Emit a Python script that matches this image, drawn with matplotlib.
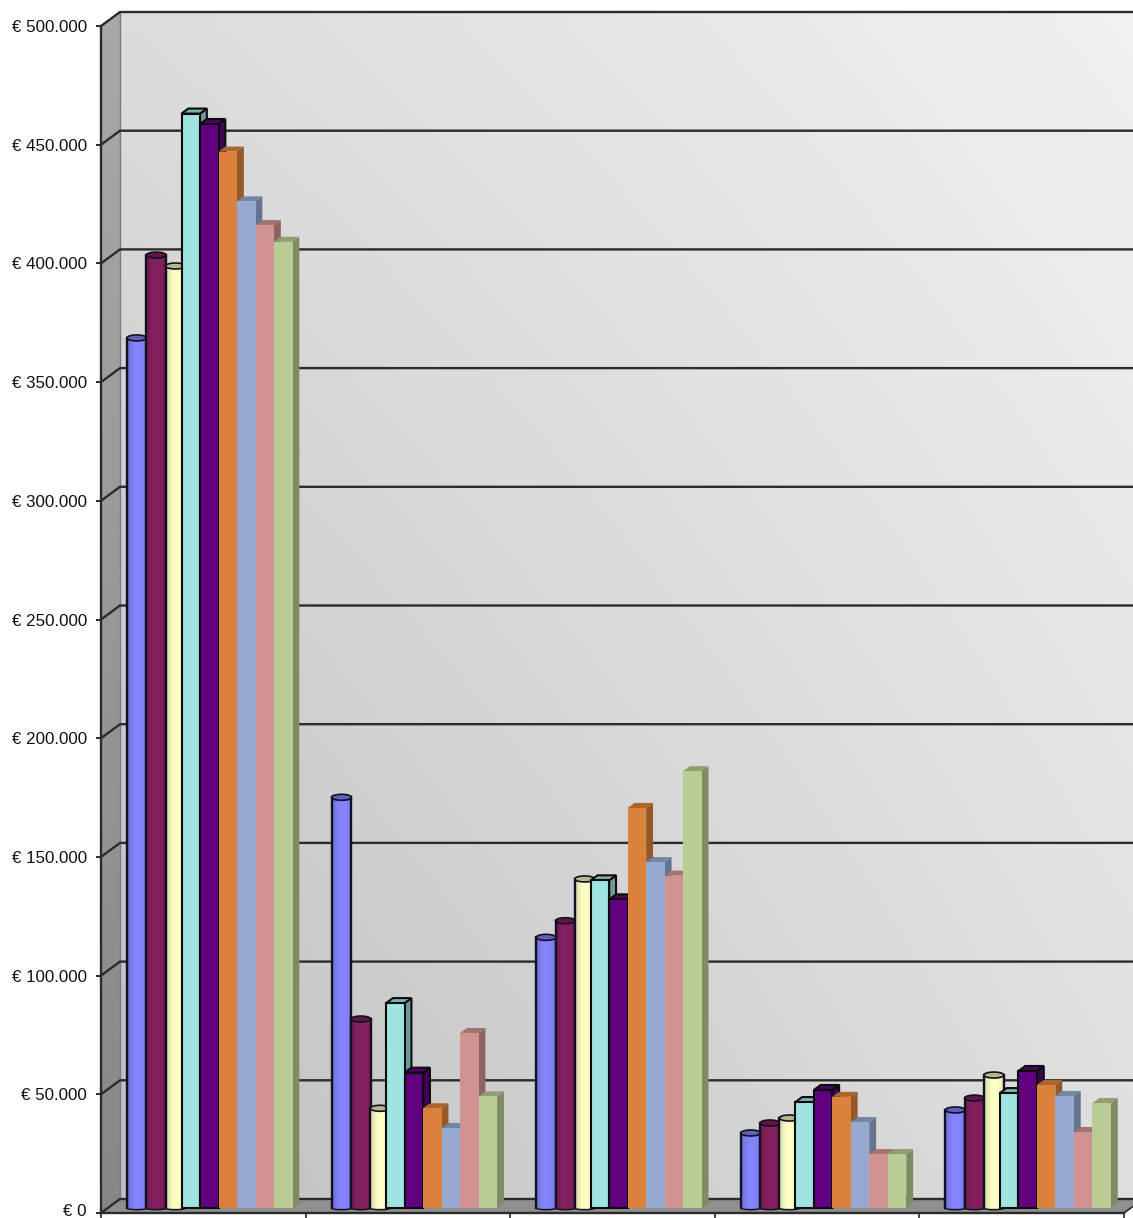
import numpy as np
import matplotlib
matplotlib.use("Agg")
import matplotlib.pyplot as plt
from matplotlib.colors import to_rgb
from matplotlib.patches import Ellipse, Polygon, Rectangle
from matplotlib.ticker import FuncFormatter
from matplotlib.transforms import ScaledTranslation

plt.rcParams["font.family"] = ["Liberation Sans", "DejaVu Sans"]

# Yearly amounts per series, one entry for each of the five unnamed groups
series_a = [366500, 173000, 114000, 31600, 41300]
series_b = [401400, 79600, 121000, 35800, 46300]
series_c = [396800, 42000, 138600, 37900, 56000]
series_d = [461000, 86300, 138000, 44600, 48400]
series_e = [456600, 57000, 130000, 49700, 57700]
series_f = [445000, 42000, 168500, 46800, 51800]
series_g = [424000, 33700, 145700, 36200, 47200]
series_h = [414000, 73700, 140000, 22700, 32000]
series_i = [407000, 47000, 184000, 22700, 44200]
all_series = [series_a, series_b, series_c, series_d, series_e,
              series_f, series_g, series_h, series_i]
colors = ["#8585FF", "#862060", "#FFFFC6", "#A0E4E2", "#600080",
          "#DB813B", "#95A9D1", "#D19392", "#B9CC93"]
shapes = ["cyl", "cyl", "cyl", "box", "box", "flat", "flat", "flat", "flat"]
y_ticks = list(range(0, 500001, 50000))

W, H = 1133, 1218
fig = plt.figure(figsize=(W / 100, H / 100), dpi=100, facecolor="white")
ax = fig.add_axes([101 / W, (H - 1213) / H, 1023 / W, 1187 / H])
ax.set_xlim(0, 5)
ax.set_ylim(0, 500000)
ax.patch.set_visible(False)

# Conversion from screen pixels to data units, used for the 3D extrusion
PX = 5 / 1023
PY = 500000 / 1187
WALL_X, WALL_Y = 19 * PX, 14 * PY
INK = "#2b2b2b"


def lift(x, v, depth):
    """Project a point on the chart's front plane back along the depth axis."""
    return x + depth * WALL_X, v + depth * WALL_Y


# Back wall with a diagonal grey gradient
u, w = np.meshgrid(np.linspace(0, 1, 64), np.linspace(0, 1, 64))
shade = 0.75 + 0.12 * u + 0.11 * w - 0.04 * u * w
ax.imshow(shade, origin="lower", cmap="gray", vmin=0, vmax=1, aspect="auto",
          extent=[WALL_X, 5 + WALL_X, WALL_Y, 500000 + WALL_Y],
          interpolation="bilinear", zorder=0, clip_on=False)

# Left wall, with a vertical gradient clipped to its parallelogram
left_poly = Polygon([(0, 0), (WALL_X, WALL_Y), (WALL_X, 500000 + WALL_Y), (0, 500000)],
                    closed=True, transform=ax.transData, facecolor="none",
                    edgecolor="none", clip_on=False)
ax.add_patch(left_poly)
lw_grad = np.linspace(0.53, 0.66, 64)[:, None] + 0 * np.linspace(0, 1, 8)[None, :]
im = ax.imshow(lw_grad, origin="lower", cmap="gray", vmin=0, vmax=1, aspect="auto",
               extent=[0, WALL_X, 0, 500000 + WALL_Y], zorder=0.5)
im.set_clip_box(fig.bbox)
im.set_clip_path(left_poly)

# Floor
ax.add_patch(Polygon([(0, 0), (WALL_X, WALL_Y), (5 + WALL_X, WALL_Y), (5, 0)], closed=True,
                     facecolor="#8f8f8f", edgecolor="none", zorder=1, clip_on=False))

# Gridlines run along the back wall and step down the left wall to each tick
for v in y_ticks:
    ax.plot([0, WALL_X, 5 + WALL_X], [v, v + WALL_Y, v + WALL_Y], color=INK, lw=1.7,
            zorder=1.5, clip_on=False, solid_joinstyle="miter")
ax.plot([WALL_X, WALL_X], [WALL_Y, 500000 + WALL_Y], color="#7a7a7a", lw=1.0, zorder=1.4,
        clip_on=False)
ax.plot([5, 5 + WALL_X], [0, WALL_Y], color=INK, lw=1.2, zorder=1.5, clip_on=False)


def shaded(color, f):
    return tuple(c * f for c in to_rgb(color))


def draw_cylinder(x0, width, v, color, z):
    base_y = 5 * PY
    cx = x0 + width / 2
    ink = "#111122"
    ax.add_patch(Ellipse((cx, base_y), width, 3.5 * PY, facecolor=shaded(color, 0.85),
                         edgecolor=ink, lw=1.0, zorder=z, clip_on=False))
    t = np.linspace(0, 1, 48)
    profile = 0.74 + 0.26 * np.clip(1 - ((t - 0.55) / 0.55) ** 2, 0, 1) ** 0.6
    rgb = np.clip(np.outer(profile, np.array(to_rgb(color))), 0, 1)[None, :, :]
    ax.imshow(rgb, aspect="auto", extent=[x0, x0 + width, base_y, base_y + v],
              zorder=z + 0.01, clip_on=False, interpolation="bilinear")
    for edge in (x0, x0 + width):
        ax.plot([edge, edge], [base_y, base_y + v], color=ink, lw=1.7, zorder=z + 0.02,
                clip_on=False)
    ax.add_patch(Ellipse((cx, base_y + v), width, 6 * PY, facecolor=shaded(color, 0.72),
                         edgecolor=ink, lw=1.2, zorder=z + 0.03, clip_on=False))


def draw_box(x0, width, v, color, z, outlined):
    base_y = 5 * PY
    d = 0.36
    top = base_y + v
    edge = "#0c0c0c" if outlined else "none"
    lw = 1.5 if outlined else 0
    x1 = x0 + width
    dx, dy = lift(0, 0, d)
    ax.add_patch(Polygon([(x1, base_y), (x1 + dx, base_y + dy), (x1 + dx, top + dy), (x1, top)],
                         closed=True, facecolor=shaded(color, 0.68), edgecolor=edge, lw=lw,
                         zorder=z, clip_on=False))
    ax.add_patch(Polygon([(x0, top), (x0 + dx, top + dy), (x1 + dx, top + dy), (x1, top)],
                         closed=True, facecolor=shaded(color, 0.78), edgecolor=edge, lw=lw,
                         zorder=z + 0.01, clip_on=False))
    ax.add_patch(Rectangle((x0, base_y), width, v, facecolor=color, edgecolor=edge, lw=lw,
                           zorder=z + 0.02, clip_on=False))


# Bars are painted from left to right so each one overlaps its neighbour's depth face
GROUP_START = 26 * PX
SLOT = 18.5 * PX
for g in range(5):
    for i, (vals, col, shape) in enumerate(zip(all_series, colors, shapes)):
        z = 2 + g + i * 0.1
        if shape == "cyl":
            draw_cylinder(g + GROUP_START + i * 19.3 * PX, 19.8 * PX, vals[g], col, z)
        else:
            draw_box(g + GROUP_START + (i * 18.5 - 1) * PX, SLOT, vals[g], col, z,
                     outlined=shape == "box")

ax.set_xlim(0, 5)
ax.set_ylim(0, 500000)
ax.set_xticks(range(6))
ax.set_xticklabels([])
ax.set_yticks(y_ticks)
euro = FuncFormatter(lambda v, _: "€ " + (f"{int(v):,}".replace(",", ".")))
ax.yaxis.set_major_formatter(euro)
ax.tick_params(axis="y", length=3.6, width=1.4, color=INK, pad=6.5, labelsize=12.2,
               labelcolor="#111111")
ax.tick_params(axis="x", length=3.6, width=1.2, color=INK)
for side in ("top", "right"):
    ax.spines[side].set_visible(False)
for side in ("left", "bottom"):
    ax.spines[side].set_color(INK)
    ax.spines[side].set_linewidth(1.7)
    ax.spines[side].set_zorder(20)

# Nudge the lowest label up so it stays on the canvas
zero_label = ax.get_yticklabels()[0]
zero_label.set_transform(zero_label.get_transform()
                         + ScaledTranslation(0, 2 / 72, fig.dpi_scale_trans))

fig.savefig("out.png", dpi=100)
